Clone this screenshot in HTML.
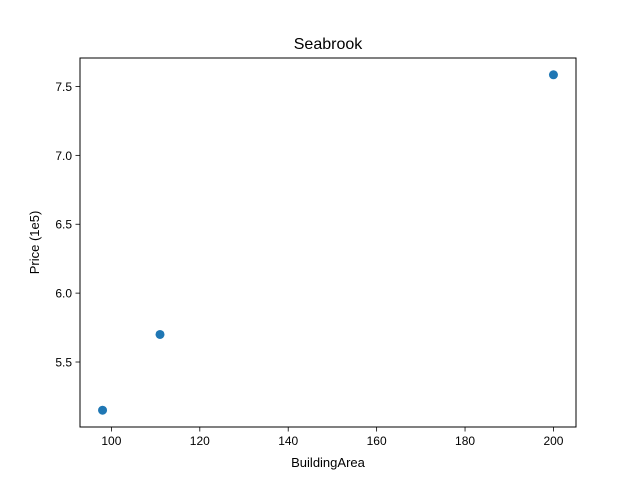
<!DOCTYPE html>
<html><head><meta charset="utf-8"><style>
html,body{margin:0;padding:0;background:#fff;}
svg text{font-family:"Liberation Sans","DejaVu Sans",sans-serif;fill:#000;}
</style></head><body>
<svg id="chart" width="640" height="480" xmlns="http://www.w3.org/2000/svg">
<rect width="640" height="480" fill="#fff"/>
<text x="328" y="49" font-size="16" text-anchor="middle">Seabrook</text>
<g id="axes"></g>
<rect x="80" y="58" width="496" height="369" fill="none" stroke="#000" stroke-width="1"/>
<text x="328" y="467" font-size="13" text-anchor="middle">BuildingArea</text>
<text x="0" y="0" font-size="13" text-anchor="middle" transform="translate(39,242.5) rotate(-90)">Price (1e5)</text>
</svg>
<script>
const xValues = [98, 111, 200];
const yValues = [5.15, 5.70, 7.585];
const xTicks = [100, 120, 140, 160, 180, 200];
const yTicks = [5.5, 6.0, 6.5, 7.0, 7.5];
const yTickLabels = ["5.5", "6.0", "6.5", "7.0", "7.5"];

const L=80,R=576,T=58,B=427;
const xmin=Math.min(...xValues),xmax=Math.max(...xValues);
const ymin=Math.min(...yValues),ymax=Math.max(...yValues);
const xm=(xmax-xmin)*0.05,ym=(ymax-ymin)*0.05;
const x0=xmin-xm,x1=xmax+xm,y0=ymin-ym,y1=ymax+ym;
const sx=v=>L+(v-x0)/(x1-x0)*(R-L);
const sy=v=>B-(v-y0)/(y1-y0)*(B-T);
const NS="http://www.w3.org/2000/svg";
const g=document.getElementById('axes');
function mk(tag,attrs){const e=document.createElementNS(NS,tag);for(const k in attrs)e.setAttribute(k,attrs[k]);g.appendChild(e);return e;}
xTicks.forEach(t=>{
  const x=sx(t);
  const l=mk('line',{x1:x,x2:x,y1:B,y2:B+4.5,stroke:'#000','stroke-width':0.8});
  
  
  const tx=mk('text',{x:x,y:B+18,'font-size':12,'text-anchor':'middle'});
  tx.textContent=t;
  
  
});
yTicks.forEach((t,i)=>{
  const y=sy(t);
  const l=mk('line',{x1:L-4.5,x2:L,y1:y,y2:y,stroke:'#000','stroke-width':0.8});
  
  
  const tx=mk('text',{x:L-8,y:y+4.5,'font-size':12,'text-anchor':'end'});
  tx.textContent=yTickLabels[i];
  
  
});
xValues.forEach((v,i)=>{
  const c=mk('circle',{cx:sx(v),cy:sy(yValues[i]),r:4.5,fill:'#1f77b4'});
  
  
});
</script>
</body></html>
